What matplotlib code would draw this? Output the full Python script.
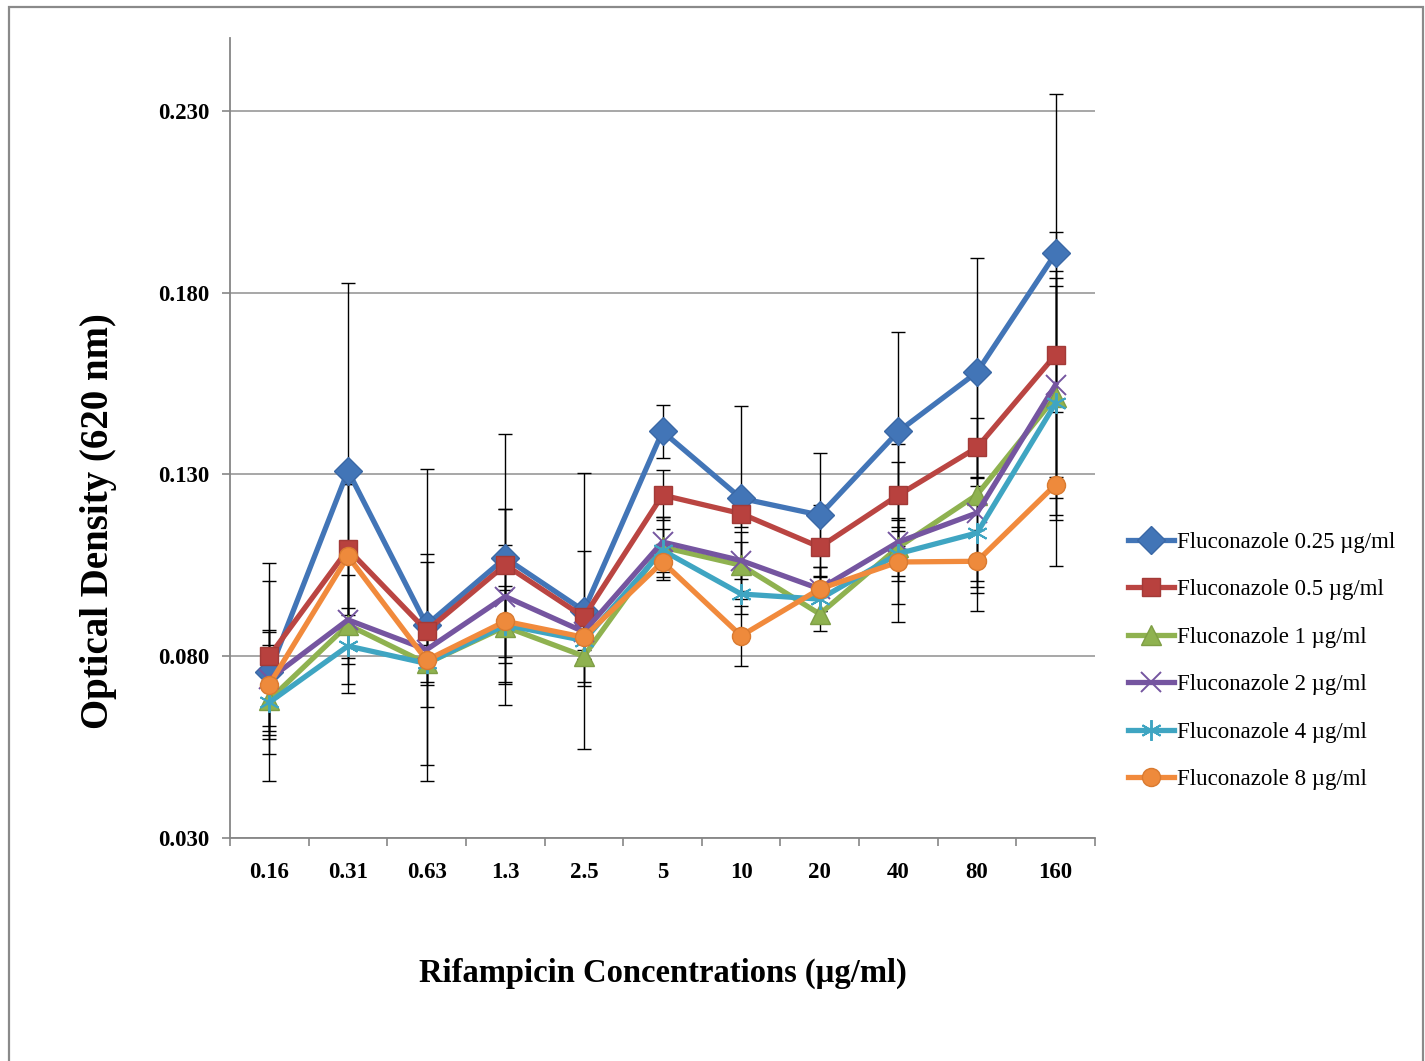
import matplotlib
matplotlib.use("Agg")
import matplotlib.pyplot as plt
from matplotlib.patches import Rectangle
import numpy as np

plt.rcParams['font.family'] = ['Liberation Serif', 'DejaVu Serif']

categories = ['0.16', '0.31', '0.63', '1.3', '2.5', '5', '10', '20', '40', '80', '160']

series_labels = ['Fluconazole 0.25 µg/ml', 'Fluconazole 0.5 µg/ml', 'Fluconazole 1 µg/ml',
                 'Fluconazole 2 µg/ml', 'Fluconazole 4 µg/ml', 'Fluconazole 8 µg/ml']

flu_025 = [0.0756, 0.1310, 0.0886, 0.1070, 0.0925, 0.1418, 0.1234, 0.1188, 0.1418, 0.1581, 0.1908]
flu_05  = [0.0800, 0.1094, 0.0870, 0.1051, 0.0908, 0.1243, 0.1192, 0.1100, 0.1243, 0.1374, 0.1629]
flu_1   = [0.0680, 0.0886, 0.0780, 0.0881, 0.0800, 0.1100, 0.1050, 0.0916, 0.1100, 0.1244, 0.1514]
flu_2   = [0.0737, 0.0900, 0.0818, 0.0964, 0.0867, 0.1114, 0.1063, 0.0985, 0.1114, 0.1194, 0.1547]
flu_4   = [0.0673, 0.0828, 0.0780, 0.0886, 0.0843, 0.1091, 0.0971, 0.0957, 0.1082, 0.1139, 0.1496]
flu_8   = [0.0722, 0.1075, 0.0789, 0.0896, 0.0852, 0.1059, 0.0856, 0.0985, 0.1059, 0.1061, 0.1272]

err_025 = [0.0300, 0.0516, 0.0430, 0.0340, 0.0380, 0.0074, 0.0255, 0.0170, 0.0273, 0.0313, 0.0437]
err_05  = [0.0207, 0.0180, 0.0210, 0.0154, 0.0180, 0.0069, 0.0037, 0.0115, 0.0140, 0.0080, 0.0337]
err_1   = [0.0150, 0.0188, 0.0280, 0.0100, 0.0083, 0.0083, 0.0092, 0.0046, 0.0080, 0.0320, 0.0327]
err_2   = [0.0130, 0.0122, 0.0060, 0.0240, 0.0050, 0.0070, 0.0050, 0.0060, 0.0220, 0.0186, 0.0313]
err_4   = [0.0090, 0.0104, 0.0050, 0.0220, 0.0050, 0.0060, 0.0056, 0.0064, 0.0074, 0.0150, 0.0321]
err_8   = [0.0150, 0.0198, 0.0067, 0.0097, 0.0060, 0.0050, 0.0083, 0.0060, 0.0115, 0.0087, 0.0224]

values = [flu_025, flu_05, flu_1, flu_2, flu_4, flu_8]
errors = [err_025, err_05, err_1, err_2, err_4, err_8]

line_colors = ['#4275B7', '#BA4542', '#8FB250', '#7555A0', '#3FA5C2', '#F18A3C']
face_colors = ['#4275B7', '#B8413E', '#8FB250', '#7555A0', '#3FA5C2', '#EE8A3C']
edge_colors = ['#3A68A6', '#A33A37', '#7F9E45', '#7555A0', '#3FA5C2', '#D97A30']
markers = ['D', 's', '^', 'x', (6, 2, 0), 'o']
msizes = [14, 13, 14, 14, 15, 13]

fig = plt.figure(figsize=(14.25, 10.61), dpi=100)
ax = fig.add_axes([230/1425, 1-838/1061, (1095-230)/1425, (838-38)/1061])

x = np.arange(len(categories))

# error bars (behind lines)
for vals, errs in zip(values, errors):
    ax.errorbar(x, vals, yerr=errs, fmt='none', ecolor='black', elinewidth=1.0,
                capsize=5, capthick=1.0, zorder=2)

handles = []
for i, (vals, lab) in enumerate(zip(values, series_labels)):
    mk = markers[i]
    if mk == 'x' or isinstance(mk, tuple):
        h, = ax.plot(x, vals, color=line_colors[i], lw=3.8, marker=mk, ms=msizes[i],
                     mew=1.4, mec=edge_colors[i], label=lab, zorder=3 + i * 0.1,
                     solid_joinstyle='round')
    else:
        h, = ax.plot(x, vals, color=line_colors[i], lw=3.8, marker=mk, ms=msizes[i],
                     mfc=face_colors[i], mec=edge_colors[i], mew=1.0, label=lab,
                     zorder=3 + i * 0.1, solid_joinstyle='round')
    handles.append(h)

ax.set_xlim(-0.5, len(categories) - 0.5)
ax.set_ylim(0.03, 0.25)
yt = [0.03, 0.08, 0.13, 0.18, 0.23]
ax.set_yticks(yt)
ax.set_yticklabels([f"{v:.3f}" for v in yt], fontsize=16.5, fontweight='bold')
ax.set_xticks(x)
ax.set_xticklabels(categories, fontsize=16.5, fontweight='bold')
ax.set_xticks(np.arange(-0.5, len(categories), 1.0), minor=True)
ax.tick_params(axis='x', which='major', length=0, pad=17)
ax.tick_params(axis='x', which='minor', length=6, width=1.2, color='#868686')
ax.tick_params(axis='y', which='major', length=6, width=1.2, color='#868686', pad=9)

ax.grid(axis='y', color='#A0A0A0', lw=1.3, zorder=0)
ax.set_axisbelow(True)
for s in ['top', 'right']:
    ax.spines[s].set_visible(False)
for s in ['left', 'bottom']:
    ax.spines[s].set_color('#868686')
    ax.spines[s].set_linewidth(1.3)

ax.set_ylabel('Optical Density (620 nm)', fontsize=28, fontweight='bold')
ax.set_xlabel('Rifampicin Concentrations (µg/ml)', fontsize=23.5, fontweight='bold', labelpad=54)
ax.yaxis.set_label_coords(-(230 - 117) / 865, (838 - 521) / 800)

fig.legend(handles=handles, labels=series_labels, loc='center left',
           bbox_to_anchor=(1128/1425, 1 - 661/1061), frameon=False, fontsize=16.5,
           handlelength=2.0, handletextpad=0.15, labelspacing=1.15,
           borderpad=0, borderaxespad=0)

# outer chart border
fig.patches.append(Rectangle((9/1425, -0.02), (1423-9)/1425, 1.02 - 7/1061,
                             transform=fig.transFigure, fill=False,
                             edgecolor='#8A8A8A', lw=1.6))

fig.savefig('out.png', dpi=100)
